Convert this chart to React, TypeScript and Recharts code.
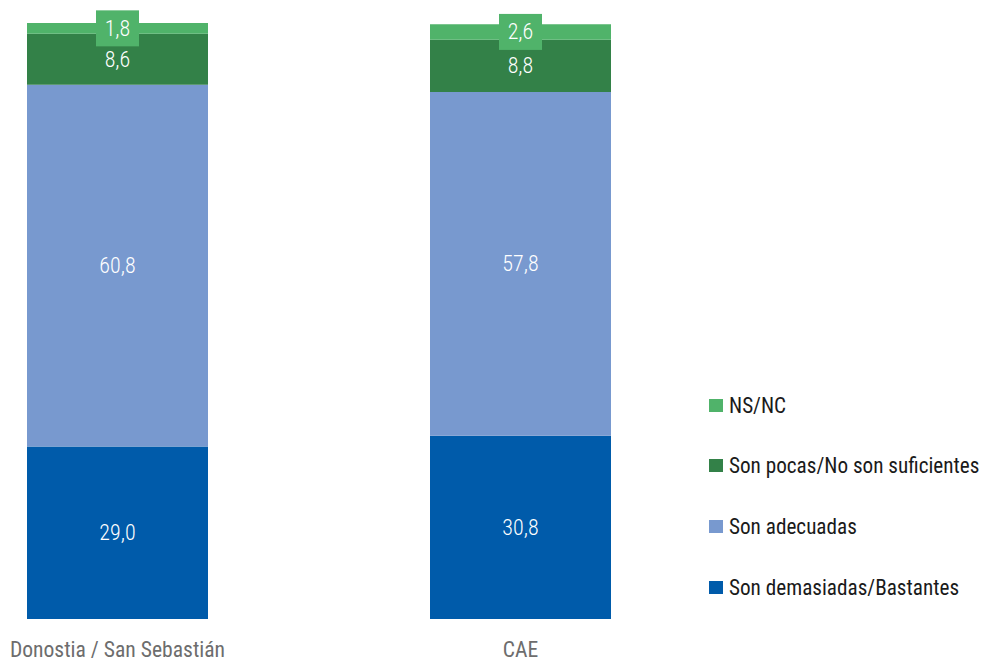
import React from 'react';
import { BarChart, Bar, XAxis, YAxis, LabelList } from 'recharts';

const categories = ['Donostia / San Sebastián', 'CAE'];
const demasiadas = [29.0, 30.8];
const adecuadas = [60.8, 57.8];
const pocas = [8.6, 8.8];
const nsnc = [1.8, 2.6];

const seriesNames = {
  demasiadas: 'Son demasiadas/Bastantes',
  adecuadas: 'Son adecuadas',
  pocas: 'Son pocas/No son suficientes',
  nsnc: 'NS/NC',
};

const colors = {
  demasiadas: '#005BAA',
  adecuadas: '#7899CF',
  pocas: '#338148',
  nsnc: '#50B36A',
};

const data = categories.map((name, i) => ({
  name,
  demasiadas: demasiadas[i],
  adecuadas: adecuadas[i],
  pocas: pocas[i],
  nsnc: nsnc[i],
}));

const FONT = "'Liberation Sans Narrow', 'Arial Narrow', 'Roboto Condensed', Roboto, sans-serif";

const fmt = (v: number) => v.toFixed(1).replace('.', ',');

const makeLabel = (boxed: boolean) => (props: any) => {
  const { x, y, width, height, value } = props;
  const cx = Number(x) + Number(width) / 2;
  const cy = Number(y) + Number(height) / 2;
  return (
    <g>
      {boxed && <rect x={cx - 21.5} y={cy - 18} width={43} height={36} fill={colors.nsnc} />}
      <text x={cx} y={cy} fill="#ffffff" textAnchor="middle" dominantBaseline="central" fontFamily={FONT} fontWeight={300} fontSize={22}>
        {fmt(Number(value))}
      </text>
    </g>
  );
};

const AxisTick = (props: any) => {
  const { x, y, payload } = props;
  return (
    <text x={x} y={y} dy={22} textAnchor="middle" dominantBaseline="central" fill="#6d6d6d" fontFamily={FONT} fontWeight={400} fontSize={21.6}>
      {payload.value}
    </text>
  );
};

const legendOrder: (keyof typeof colors)[] = ['nsnc', 'pocas', 'adecuadas', 'demasiadas'];

export default function App() {
  return (
    <div style={{ position: 'absolute', left: 0, top: 0, width: 984, height: 661, overflow: 'hidden', background: '#ffffff' }}>
      <div style={{ position: 'absolute', left: -84, top: 0 }}>
        <BarChart width={1068} height={661} data={data} margin={{ top: 23, right: 262, bottom: 0, left: 0 }}>
          <XAxis dataKey="name" axisLine={false} tickLine={false} tick={<AxisTick />} height={42} interval={0} />
          <YAxis hide domain={[0, 100]} />
          <Bar dataKey="demasiadas" stackId="a" fill={colors.demasiadas} barSize={181} isAnimationActive={false}>
            <LabelList dataKey="demasiadas" content={makeLabel(false)} />
          </Bar>
          <Bar dataKey="adecuadas" stackId="a" fill={colors.adecuadas} barSize={181} isAnimationActive={false}>
            <LabelList dataKey="adecuadas" content={makeLabel(false)} />
          </Bar>
          <Bar dataKey="pocas" stackId="a" fill={colors.pocas} barSize={181} isAnimationActive={false}>
            <LabelList dataKey="pocas" content={makeLabel(false)} />
          </Bar>
          <Bar dataKey="nsnc" stackId="a" fill={colors.nsnc} barSize={181} isAnimationActive={false}>
            <LabelList dataKey="nsnc" content={makeLabel(true)} />
          </Bar>
        </BarChart>
      </div>
      <div style={{ position: 'absolute', left: 709, top: 393, fontFamily: FONT, fontWeight: 400, fontSize: 21.2, color: '#1a1a1a' }}>
        {legendOrder.map((k, i) => (
          <div key={k} style={{ position: 'absolute', left: 0, top: i * 60.7, height: 24, display: 'flex', alignItems: 'center', whiteSpace: 'nowrap' }}>
            <span style={{ display: 'inline-block', width: 14, height: 13, background: colors[k], marginRight: 6 }} />
            <span>{seriesNames[k]}</span>
          </div>
        ))}
      </div>
    </div>
  );
}
